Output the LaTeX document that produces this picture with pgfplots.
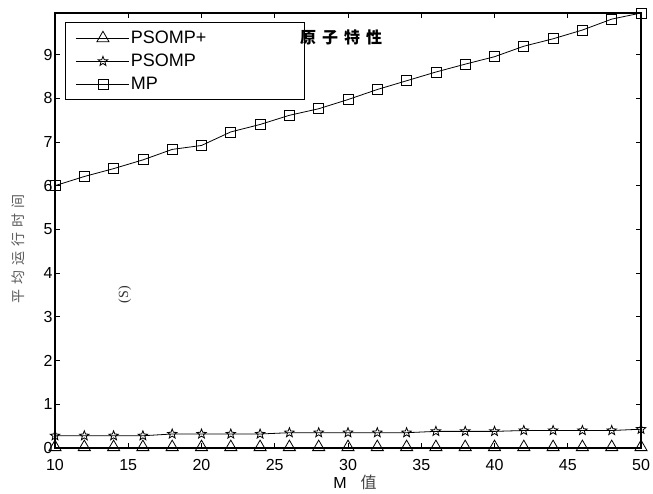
\documentclass[border=0pt]{standalone}
\usepackage{pgfplots}
\pgfplotsset{compat=1.18}
\usepackage{fontspec}
\setmainfont{Liberation Sans}
\newfontfamily\cjk{Noto Sans CJK SC}
\newfontfamily\serif{Liberation Serif}

\pgfdeclareplotmark{pentagram}{%
  \pgfpathmoveto{\pgfpointpolar{90}{\pgfplotmarksize}}%
  \pgfpathlineto{\pgfpointpolar{126}{0.42\pgfplotmarksize}}%
  \pgfpathlineto{\pgfpointpolar{162}{\pgfplotmarksize}}%
  \pgfpathlineto{\pgfpointpolar{198}{0.42\pgfplotmarksize}}%
  \pgfpathlineto{\pgfpointpolar{234}{\pgfplotmarksize}}%
  \pgfpathlineto{\pgfpointpolar{270}{0.42\pgfplotmarksize}}%
  \pgfpathlineto{\pgfpointpolar{306}{\pgfplotmarksize}}%
  \pgfpathlineto{\pgfpointpolar{342}{0.42\pgfplotmarksize}}%
  \pgfpathlineto{\pgfpointpolar{18}{\pgfplotmarksize}}%
  \pgfpathlineto{\pgfpointpolar{54}{0.42\pgfplotmarksize}}%
  \pgfpathclose
  \pgfusepathqstroke}

\pgfplotstableread{
M PSOMPplus PSOMP MP
10 0.02 0.28 6.00
12 0.02 0.28 6.21
14 0.02 0.28 6.39
16 0.02 0.28 6.59
18 0.02 0.32 6.83
20 0.02 0.32 6.92
22 0.02 0.32 7.23
24 0.02 0.32 7.40
26 0.02 0.35 7.61
28 0.02 0.35 7.76
30 0.02 0.35 7.97
32 0.02 0.35 8.20
34 0.02 0.35 8.40
36 0.02 0.38 8.60
38 0.02 0.38 8.78
40 0.02 0.38 8.95
42 0.02 0.40 9.19
44 0.02 0.40 9.36
46 0.02 0.40 9.56
48 0.02 0.40 9.81
50 0.02 0.43 9.95
}\datatable

\begin{document}
\begin{tikzpicture}
\useasboundingbox (0,0) rectangle (653pt,494pt);
\begin{axis}[
  name=ax,
  at={(55pt,46pt)}, anchor=south west,
  scale only axis, width=586pt, height=435pt,
  xmin=10, xmax=50, ymin=0, ymax=9.95,
  xtick={10,15,...,50}, ytick={0,1,...,9},
  tick align=inside, major tick length=5pt,
  axis line style={line width=1.2pt},
  tick style={line width=0.8pt, black},
  clip=false,
  /pgf/number format/assume math mode=true,
  tick label style={font=\fontsize{16}{16}\selectfont},
  xticklabel style={yshift=-8pt},
  yticklabel style={xshift=1pt},
  xlabel={M\hspace{14pt}{\cjk\color{black!75}值}},
  xlabel style={at={(axis description cs:0.512,-0.080)}, anchor=center, font=\fontsize{16}{16}\selectfont},
  ylabel={\cjk 平\hspace{5pt}均\hspace{5pt}运\hspace{5pt}行\hspace{5pt}时\hspace{5pt}间},
  ylabel style={at={(axis description cs:-0.063,0.457)}, anchor=center, font=\fontsize{14}{14}\selectfont, color=black!65},
  legend cell align=left,
  legend style={at={(axis description cs:0.017,0.979)}, anchor=north west,
    draw=black, line width=1.2pt, font=\fontsize{18}{18}\selectfont,
    inner xsep=10pt, inner ysep=7pt, row sep=6pt,
    nodes={inner sep=1.5pt}},
  legend image code/.code={
    \draw[#1, line width=0.8pt, mark repeat=2, mark phase=2] plot coordinates {(0pt,0pt) (27pt,0pt) (53pt,0pt)};},
]
\addplot[black, line width=0.8pt, mark=triangle, mark size=7pt] table[x=M, y=PSOMPplus] {\datatable};
\addlegendentry{\makebox[162pt][l]{PSOMP+}}
\addplot[black, line width=0.8pt, mark=pentagram, mark size=5pt] table[x=M, y=PSOMP] {\datatable};
\addlegendentry{PSOMP}
\addplot[black, line width=0.8pt, mark=square, mark size=5pt] table[x=M, y=MP] {\datatable};
\addlegendentry{MP}
\node[rotate=90, font=\serif\fontsize{14}{14}\selectfont, color=black!80] at (axis description cs:0.119,0.352) {(S)};
\end{axis}
\node[font=\cjk\bfseries\fontsize{16}{16}\selectfont] at ([shift={(286pt,-24pt)}]ax.north west) {原\hspace{6pt}子\hspace{6pt}特\hspace{6pt}性};
\end{tikzpicture}
\end{document}
